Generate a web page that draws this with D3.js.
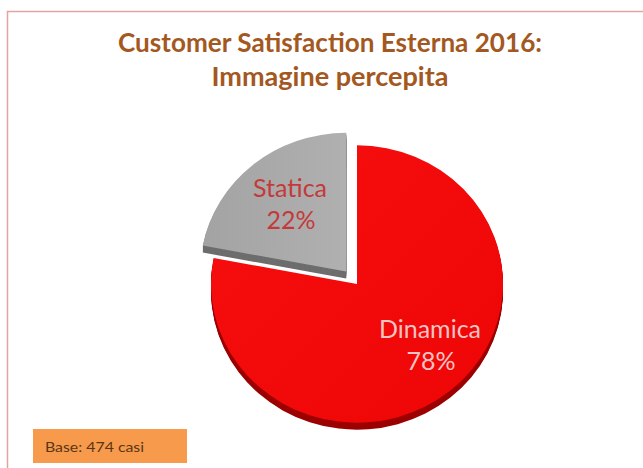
<!DOCTYPE html>
<html><head><meta charset="utf-8">
<script src="https://cdn.jsdelivr.net/npm/d3@7"></script>
<style>html,body{margin:0;padding:0;background:#fff;}svg{display:block;}</style>
</head><body>
<svg id="chart" width="643" height="468"></svg>
<script>
const categories = ["Statica", "Dinamica"];
const values = [22, 78];
const valueLabels = ["22%", "78%"];
const titleLines = ["Customer Satisfaction Esterna 2016:", "Immagine percepita"];
const baseNote = "Base: 474 casi";

const svg = d3.select("#chart");
const W = 643, H = 468;

// frame
svg.append("path")
  .attr("d", `M7.5,${H} L7.5,11.5 L${W},11.5`)
  .attr("fill", "none").attr("stroke", "#e2a3a3").attr("stroke-width", 1.5);

// title
const titleWidths = [424, 237];
titleLines.forEach((t, i) => {
  svg.append("text")
    .attr("x", 330).attr("y", 52 + i * 34)
    .attr("text-anchor", "middle")
    .attr("font-family", "Lato, 'Open Sans', sans-serif")
    .attr("font-weight", "bold").attr("font-size", 26)
    .attr("fill", "#a3581f")
    .attr("textLength", titleWidths[i]).attr("lengthAdjust", "spacingAndGlyphs")
    .text(t);
});

// pie
const total = d3.sum(values);
const start = -(values[0] / total) * 2 * Math.PI;
const pie = d3.pie().sort(null).startAngle(start).endAngle(start + 2 * Math.PI);
const arcs = pie(values);
const R = 146, yScale = 0.95, depth = 7;
const arc = d3.arc().innerRadius(0).outerRadius(R);
const center = { x: 357, y: 284 };
const explode = [17, 0];
const topColors = ["#a7a7a7", "#f30b0b"];
const sideColors = ["#6d6d6d", "#9c0000"];

const defs = svg.append("defs");
const gR = defs.append("linearGradient").attr("id", "gRed").attr("x1", 0).attr("x2", 1).attr("y1", 0).attr("y2", 1);
gR.append("stop").attr("offset", "0%").attr("stop-color", "#f70e0e");
gR.append("stop").attr("offset", "100%").attr("stop-color", "#ee0606");
const gG = defs.append("linearGradient").attr("id", "gGray").attr("x1", 0).attr("x2", 1).attr("y1", 0).attr("y2", 0);
gG.append("stop").attr("offset", "0%").attr("stop-color", "#a3a3a3");
gG.append("stop").attr("offset", "100%").attr("stop-color", "#b0b0b0");
const fills = ["url(#gGray)", "url(#gRed)"];

// draw red (index 1) first, then gray
[1, 0].forEach(i => {
  const a = arcs[i];
  const mid = (a.startAngle + a.endAngle) / 2;
  const dx = Math.sin(mid) * explode[i], dy = -Math.cos(mid) * explode[i] * yScale;
  const g = svg.append("g").attr("transform", `translate(${center.x + dx},${center.y + dy})`);
  for (let k = depth; k >= 1; k--) {
    g.append("path")
      .attr("transform", `translate(0,${k}) scale(1,${yScale})`)
      .attr("d", arc(a)).attr("fill", sideColors[i]);
  }
  g.append("path")
    .attr("transform", `scale(1,${yScale})`)
    .attr("d", arc(a)).attr("fill", fills[i]);
});

// labels
const labelPos = [{ x: 290, y: 197 }, { x: 430, y: 338 }];
const labelColors = ["#c43a3a", "#f7c3c3"];
categories.forEach((c, i) => {
  const t = svg.append("text")
    .attr("text-anchor", "middle")
    .attr("font-family", "Lato, 'Open Sans', sans-serif")
    .attr("font-size", 25).attr("fill", labelColors[i]);
  t.append("tspan").attr("x", labelPos[i].x).attr("y", labelPos[i].y).text(c);
  t.append("tspan").attr("x", labelPos[i].x + 1).attr("y", labelPos[i].y + 32).text(valueLabels[i]);
});

// base note
svg.append("rect").attr("x", 33).attr("y", 429).attr("width", 154).attr("height", 34).attr("fill", "#f79a4c");
svg.append("text").attr("x", 45).attr("y", 452)
  .attr("font-family", "Lato, 'Open Sans', sans-serif").attr("font-size", 14)
  .attr("fill", "#5a3616")
  .attr("textLength", 99).attr("lengthAdjust", "spacingAndGlyphs")
  .text(baseNote);
</script>
</body></html>
